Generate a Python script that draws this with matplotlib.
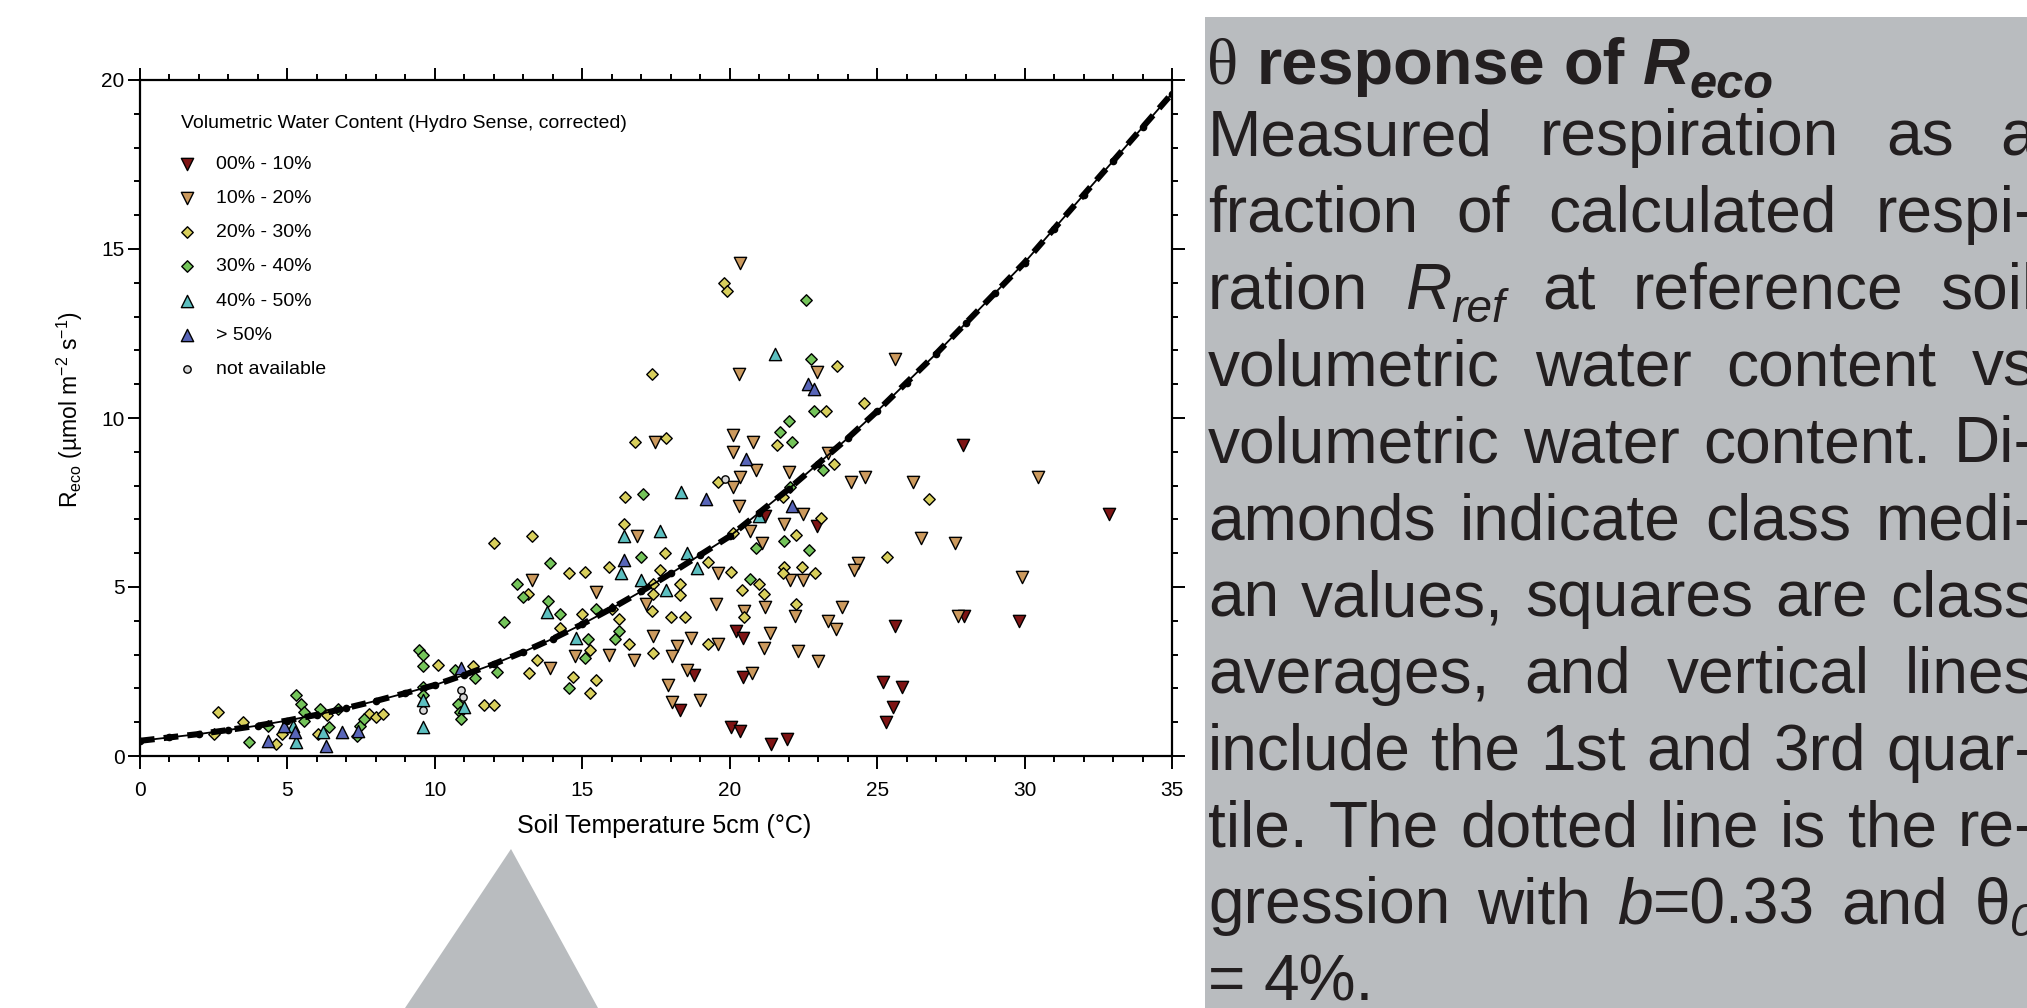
#!/usr/bin/env python3

import matplotlib
matplotlib.use("Agg")
import matplotlib.pyplot as plt
from matplotlib.patches import Rectangle, Polygon
from matplotlib.ticker import MultipleLocator
from matplotlib.transforms import IdentityTransform

W, H, DPI = 2027, 1008, 100

# regression curve at every degree
curve_temp = list(range(0, 36))
curve_reco = [0.45, 0.55, 0.65, 0.77, 0.9, 1.05, 1.22, 1.42, 1.63, 1.86,
              2.1, 2.4, 2.72, 3.08, 3.47, 3.9, 4.37, 4.87, 5.4, 5.95,
              6.5, 7.2, 7.9, 8.65, 9.4, 10.2, 11.05, 11.9, 12.8, 13.7,
              14.6, 15.6, 16.6, 17.6, 18.6, 19.6]

# measured points (soil temperature, Reco) per water content class
vwc_00_10 = [(18.3, 1.35), (18.8, 2.4), (20.2, 3.7), (20.45, 3.5), (20.45, 2.35),
             (20.05, 0.85), (20.35, 0.75), (21.4, 0.35), (21.95, 0.5), (21.2, 7.1),
             (22.95, 6.8), (27.9, 9.2), (32.85, 7.15), (25.6, 3.85), (27.95, 4.15),
             (29.8, 4.0), (25.2, 2.2), (25.85, 2.05), (25.55, 1.45), (25.3, 1.0)]
vwc_10_20 = [(13.3, 5.2), (15.45, 4.85), (15.9, 3.0), (14.75, 2.95), (13.9, 2.6),
             (16.85, 6.5), (16.75, 2.85), (17.4, 3.55), (17.15, 4.5), (18.7, 3.5),
             (18.2, 3.25), (18.05, 2.95), (19.6, 3.3), (18.55, 2.55), (17.9, 2.1),
             (18.05, 1.6), (19.0, 1.65), (19.6, 5.4), (20.3, 7.4), (20.7, 6.65),
             (21.1, 6.3), (21.85, 6.85), (22.5, 7.15), (22.05, 5.2), (21.2, 4.4),
             (19.55, 4.5), (20.5, 4.3), (21.35, 3.65), (21.15, 3.2), (22.2, 4.15),
             (22.3, 3.1), (23.0, 2.8), (20.75, 2.45), (20.35, 14.6), (22.95, 11.35),
             (20.3, 11.3), (17.45, 9.3), (20.1, 9.5), (20.8, 9.3), (20.1, 9.0),
             (20.9, 8.45), (20.35, 8.25), (20.1, 7.95), (22.0, 8.4), (23.35, 8.95),
             (24.1, 8.1), (24.6, 8.25), (25.6, 11.75), (30.45, 8.25), (26.2, 8.1),
             (26.5, 6.45), (27.65, 6.3), (24.35, 5.7), (24.2, 5.5), (29.9, 5.3),
             (22.5, 5.2), (23.8, 4.4), (23.35, 4.0), (23.6, 3.75), (27.75, 4.15)]
vwc_20_30 = [(2.65, 1.3), (3.5, 1.0), (2.5, 0.65), (4.6, 0.35), (4.8, 0.65),
             (6.05, 0.65), (6.35, 1.2), (7.75, 1.25), (8.0, 1.15), (8.25, 1.25),
             (10.1, 2.7), (11.3, 2.65), (11.65, 1.5), (12.0, 1.5), (16.45, 7.65),
             (19.6, 8.1), (16.4, 6.85), (12.0, 6.3), (13.3, 6.5), (17.8, 6.0),
             (15.9, 5.6), (15.1, 5.45), (14.55, 5.4), (13.15, 4.8), (14.25, 3.8),
             (15.0, 4.2), (16.0, 4.35), (16.25, 4.05), (15.25, 3.15), (13.45, 2.85),
             (13.2, 2.45), (14.7, 2.35), (15.45, 2.25), (15.25, 1.85), (16.6, 3.3),
             (17.4, 3.05), (17.4, 5.1), (17.65, 5.5), (17.4, 4.8), (17.35, 4.3),
             (18.3, 5.1), (18.3, 4.75), (18.0, 4.1), (18.5, 4.1), (19.25, 3.3),
             (19.25, 5.75), (20.05, 5.45), (20.1, 6.6), (22.25, 6.55), (21.85, 5.6),
             (22.45, 5.6), (21.8, 5.4), (20.4, 4.9), (21.0, 5.1), (21.15, 4.8),
             (20.5, 4.1), (22.25, 4.5), (19.8, 14.0), (19.9, 13.75), (23.65, 11.55),
             (17.35, 11.3), (24.55, 10.45), (23.25, 10.2), (21.6, 9.2), (16.8, 9.3),
             (17.85, 9.4), (23.55, 8.65), (21.8, 7.65), (23.1, 7.05), (26.75, 7.6),
             (25.35, 5.9), (22.9, 5.4)]
vwc_30_40 = [(3.7, 0.4), (4.35, 0.9), (5.3, 1.8), (5.45, 1.55), (5.55, 1.3),
             (5.55, 1.05), (6.1, 1.4), (6.4, 0.85), (6.7, 1.4), (7.35, 0.6),
             (7.45, 0.9), (7.6, 1.1), (9.45, 3.15), (9.6, 3.0), (9.6, 2.65),
             (9.6, 2.05), (9.6, 1.8), (10.7, 2.55), (11.35, 2.3), (10.8, 1.55),
             (10.85, 1.3), (10.9, 1.1), (12.1, 2.5), (17.05, 7.75), (17.0, 5.9),
             (13.9, 5.7), (12.8, 5.1), (13.0, 4.7), (12.35, 3.95), (13.85, 4.6),
             (14.25, 4.2), (15.45, 4.35), (16.25, 3.7), (16.1, 3.45), (15.2, 3.45),
             (15.1, 2.9), (14.55, 2.0), (20.9, 6.15), (21.85, 6.35), (22.7, 6.1),
             (20.7, 5.25), (22.6, 13.5), (22.75, 11.75), (22.85, 10.2), (22.0, 9.9),
             (21.7, 9.6), (22.1, 9.3), (23.15, 8.45), (22.05, 7.95)]
vwc_40_50 = [(5.2, 0.9), (5.3, 0.4), (6.2, 0.7), (9.6, 1.65), (9.6, 0.85),
             (11.0, 1.45), (18.35, 7.8), (16.4, 6.5), (17.65, 6.65), (16.3, 5.4),
             (13.8, 4.25), (14.8, 3.5), (17.0, 5.2), (17.85, 4.9), (18.55, 6.0),
             (18.9, 5.55), (21.0, 7.1), (21.55, 11.9)]
vwc_50_up = [(4.35, 0.45), (4.9, 0.9), (5.25, 0.7), (6.3, 0.3), (6.85, 0.7),
             (7.4, 0.75), (10.9, 2.6), (19.2, 7.6), (16.4, 5.8), (22.1, 7.4),
             (22.65, 11.0), (22.85, 10.85), (20.55, 8.8)]
vwc_na = [(9.6, 1.35), (10.9, 1.95), (10.95, 1.75), (19.85, 8.2)]

class_labels = ["00% - 10%", "10% - 20%", "20% - 30%", "30% - 40%",
                "40% - 50%", "> 50%", "not available"]

legend_title = "Volumetric Water Content (Hydro Sense, corrected)"

title_words = ["θ", "response", "of", "R_eco"]
body_lines = [
    "Measured respiration as a",
    "fraction of calculated respi-",
    "ration R_ref at reference soil",
    "volumetric water content vs",
    "volumetric water content. Di-",
    "amonds indicate class medi-",
    "an values, squares are class",
    "averages, and vertical lines",
    "include the 1st and 3rd quar-",
    "tile. The dotted line is the re-",
    "gression with b=0.33 and θ_0",
    "= 4%.",
]

GREY = "#b9bcbf"
TEXT = "#231f20"

plt.rcParams["font.family"] = ["Liberation Sans", "DejaVu Sans"]
plt.rcParams["mathtext.fontset"] = "custom"
plt.rcParams["mathtext.rm"] = "Liberation Sans"
plt.rcParams["mathtext.it"] = "Liberation Sans:italic"

fig = plt.figure(figsize=(W / DPI, H / DPI), dpi=DPI, facecolor="white")

# grey caption box and the speech-bubble pointer
fig.add_artist(Rectangle((1205 / W, 0), 1 - 1205 / W, 1 - 17 / H,
                         transform=fig.transFigure, facecolor=GREY,
                         edgecolor="none", zorder=0))
fig.add_artist(Polygon([[405 / W, 0], [511 / W, 1 - 849 / H], [598 / W, 0]],
                       closed=True, transform=fig.transFigure,
                       facecolor=GREY, edgecolor="none", zorder=0))

ax = fig.add_axes([140 / W, 1 - 756 / H, (1172 - 140) / W, (756 - 80) / H])

styles = [
    dict(marker="v", s=78, c="#7e1414"),
    dict(marker="v", s=78, c="#cc9a5e"),
    dict(marker="D", s=34, c="#d8cf5c"),
    dict(marker="D", s=34, c="#74c45a"),
    dict(marker="^", s=78, c="#5cbfc0"),
    dict(marker="^", s=78, c="#5865b8"),
    dict(marker="o", s=28, c="#d8d8d8"),
]
groups = [vwc_00_10, vwc_10_20, vwc_20_30, vwc_30_40, vwc_40_50, vwc_50_up, vwc_na]

handles = []
for pts, st in zip(groups, styles):
    xs = [p[0] for p in pts]
    ys = [p[1] for p in pts]
    h = ax.scatter(xs, ys, edgecolors="black", linewidths=1.0, zorder=2, **st)
    handles.append(h)

# regression: thin line, heavy dashes and dots
ax.plot(curve_temp, curve_reco, color="black", lw=1.3, zorder=3)
ax.plot(curve_temp, curve_reco, color="black", lw=4.4, ls=(0, (2.4, 1.5)), zorder=3)
ax.plot(curve_temp, curve_reco, "o", color="black", ms=4.5, zorder=3)

ax.set_xlim(0, 35)
ax.set_ylim(0, 20)
ax.xaxis.set_major_locator(MultipleLocator(5))
ax.xaxis.set_minor_locator(MultipleLocator(1))
ax.yaxis.set_major_locator(MultipleLocator(5))
ax.yaxis.set_minor_locator(MultipleLocator(1))
ax.tick_params(which="both", direction="out", top=True, right=True,
               width=1.4, colors="black", labelsize=15)
ax.tick_params(which="major", length=9)
ax.tick_params(which="minor", length=4.5)
ax.tick_params(axis="y", pad=2)
ax.tick_params(axis="x", pad=9)
for sp in ax.spines.values():
    sp.set_linewidth(1.6)

ax.set_xlabel("Soil Temperature 5cm (°C)", fontsize=18)
ax.xaxis.set_label_coords(0.5075, -0.086)
ax.set_ylabel(r"R$_{\rm eco}$ (µmol m$^{-2}$ s$^{-1}$)", fontsize=16.5)
ax.yaxis.set_label_coords(-0.053, 0.513)

leg = ax.legend(handles, class_labels, title=legend_title, loc="upper left",
                bbox_to_anchor=(181 / W, 1 - 115 / H), bbox_transform=fig.transFigure,
                frameon=False, fontsize=14, title_fontsize=14, alignment="left",
                labelspacing=0.85, handlelength=0.6, handletextpad=1.2,
                borderpad=0, borderaxespad=0, scatterpoints=1)
leg._legend_box.sep = 0.85 * 14 + 5

# caption text, laid out word by word so lines can be justified
renderer = fig.canvas.get_renderer()
reg = {}
ital = {"style": "italic"}
bold = {"weight": "bold"}
boldit = {"weight": "bold", "style": "italic"}

special = {
    "R_ref": [("R", ital, 1, 0), ("ref", ital, 0.72, -0.2)],
    "b=0.33": [("b", ital, 1, 0), ("=0.33", reg, 1, 0)],
    "θ_0": [("θ", reg, 1, 0), ("0", ital, 0.72, -0.2)],
}
title_special = {
    "θ": [("θ", {"family": ["Liberation Serif", "DejaVu Serif"]}, 1, 0)],
    "R_eco": [("R", boldit, 1, 0), ("eco", boldit, 0.75, -0.22)],
}


def place_line(words, x0, base, px, right=None):
    parts, widths = [], []
    for word in words:
        arts, w = [], 0
        for txt, props, scale, dy in word:
            t = fig.text(0, 0, txt, transform=IdentityTransform(), color=TEXT,
                         fontsize=px * scale * 72 / DPI, va="baseline", ha="left",
                         **props)
            arts.append((t, w, dy * px))
            w += t.get_window_extent(renderer).width
        parts.append(arts)
        widths.append(w)
    if right is None or len(words) < 2:
        gap = 0.28 * px
    else:
        gap = (right - x0 - sum(widths)) / (len(words) - 1)
    x = x0
    for arts, w in zip(parts, widths):
        for t, off, dy in arts:
            t.set_position((x + off, H - base + dy))
        x += w + gap


TITLE_PX = 65
BODY_PX = 64
title = [title_special.get(w, [(w, bold, 1, 0)]) for w in title_words]
place_line(title, 1207, 84, TITLE_PX)
for i, line in enumerate(body_lines):
    words = [special.get(w, [(w, reg, 1, 0)]) for w in line.split(" ")]
    last = i == len(body_lines) - 1
    place_line(words, 1208, 155 + i * 76.85, BODY_PX, None if last else 2036)

fig.savefig("out.png", dpi=DPI, facecolor="white")
